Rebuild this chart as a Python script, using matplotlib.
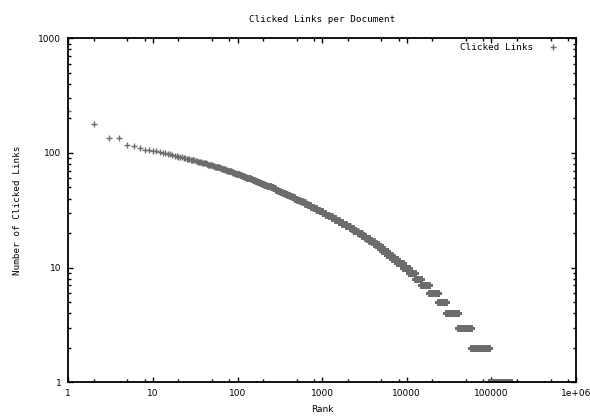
import numpy as np
import matplotlib
matplotlib.use("Agg")
import matplotlib.pyplot as plt
from matplotlib.ticker import FixedLocator, FixedFormatter, NullFormatter

# --- data --------------------------------------------------------------
# counts of the first 14 ranks (drawn as separate points)
top_counts = [234, 180, 136, 134, 117, 115, 111, 107, 106, 105, 104, 102, 100, 99]

# below that every rank has an integer count: count value and the first rank that has it
step_counts = list(range(98, 0, -1))
step_first_rank = [
    15, 16, 17, 18, 19, 20, 21, 23, 24, 25,
    27, 28, 30, 32, 34, 36, 38, 40, 43, 45,
    48, 51, 54, 58, 62, 65, 69, 72, 76, 80,
    85, 89, 95, 100, 106, 113, 120, 127, 135, 143,
    151, 161, 171, 182, 193, 206, 220, 233, 248, 263,
    280, 299, 319, 340, 362, 385, 411, 439, 470, 503,
    540, 581, 625, 674, 728, 788, 855, 930, 1009, 1096,
    1193, 1303, 1428, 1570, 1727, 1904, 2109, 2345, 2621, 2922,
    3239, 3612, 4053, 4581, 5140, 5804, 6612, 7638, 8940, 10620,
    12620, 14830, 18370, 23170, 29440, 39900, 56750, 93100,
]
last_rank = 172000

x_ticks = [1, 10, 100, 1000, 10000, 100000, 1000000]
x_tick_labels = ["1", "10", "100", "1000", "10000", "100000", "1e+06"]
y_ticks = [1, 10, 100, 1000]
y_tick_labels = ["1", "10", "100", "1000"]

# --- expand the rank table into one point per rank ---------------------
run_len = np.diff(step_first_rank + [last_rank + 1])
counts = np.concatenate([top_counts, np.repeat(step_counts, run_len)])
ranks = np.arange(1, len(counts) + 1)

MONO = "DejaVu Sans Mono"
GREY = "#6c6c6c"

fig = plt.figure(figsize=(5.9, 4.16), dpi=100)
ax = fig.add_axes([68.3 / 590, 1 - 382.3 / 416, (576 - 68.3) / 590, (382.3 - 38.3) / 416])

ax.plot(ranks, counts, linestyle="none", marker="+", ms=4.3, mew=1.0,
        color=GREY, label="Clicked Links")

ax.set_xscale("log")
ax.set_yscale("log")
ax.set_xlim(1, 1e6)
ax.set_ylim(1, 1000)

ax.xaxis.set_major_locator(FixedLocator(x_ticks))
ax.xaxis.set_major_formatter(FixedFormatter(x_tick_labels))
ax.xaxis.set_minor_locator(FixedLocator([d * m for d in x_ticks[:-1] for m in (2, 5, 8)]))
ax.xaxis.set_minor_formatter(NullFormatter())
ax.yaxis.set_major_locator(FixedLocator(y_ticks))
ax.yaxis.set_major_formatter(FixedFormatter(y_tick_labels))
ax.yaxis.set_minor_locator(FixedLocator([d * m for d in y_ticks[:-1] for m in range(2, 10)]))
ax.yaxis.set_minor_formatter(NullFormatter())

ax.tick_params(which="both", direction="in", top=True, right=True,
               labelsize=6.5, width=1.0, colors="black")
ax.tick_params(which="major", length=3.5, pad=5)
ax.tick_params(which="minor", length=2.0)
for s in ax.spines.values():
    s.set_linewidth(1.3)

fig.text(322 / 590, 1 - 20 / 416, "Clicked Links per Document", family=MONO,
         fontsize=6.7, ha="center", va="center")
fig.text(322 / 590, 1 - 410 / 416, "Rank", fontsize=6.5, ha="center", va="center")
fig.text(18 / 590, 1 - 210 / 416, "Number of Clicked Links", family=MONO,
         fontsize=6.7, ha="center", va="center", rotation=90)

ax.legend(loc="center right", bbox_to_anchor=(560 / 590, 1 - 47.3 / 416),
          bbox_transform=fig.transFigure, frameon=False, markerfirst=False,
          numpoints=1, handlelength=1.5, handletextpad=1.4, borderpad=0,
          borderaxespad=0, prop={"family": MONO, "size": 6.7})

fig.savefig("out.png", dpi=100)
